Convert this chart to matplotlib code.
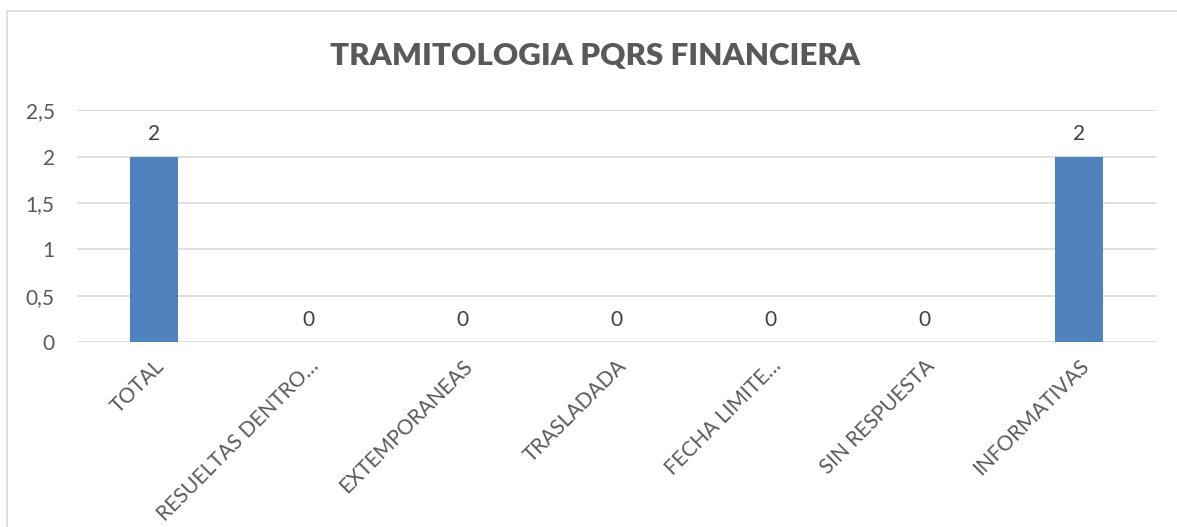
import matplotlib.pyplot as plt
from matplotlib.patches import Rectangle

plt.rcParams['font.family'] = ['Lato', 'DejaVu Sans']

categorias = ["TOTAL", "RESUELTAS DENTRO…", "EXTEMPORANEAS", "TRASLADADA",
              "FECHA LIMITE…", "SIN RESPUESTA", "INFORMATIVAS"]
valores = [2, 0, 0, 0, 0, 0, 2]
yticks = [0, 0.5, 1, 1.5, 2, 2.5]
ytick_labels = ["0", "0,5", "1", "1,5", "2", "2,5"]

gris = "#595959"
azul = "#4f81bd"
fs = 15  # general font size

fig = plt.figure(figsize=(11.77, 5.27), dpi=100)
ax = fig.add_axes([0.0654, 0.351, 0.9166, 0.440])

x = range(len(categorias))
bars = ax.bar(x, valores, width=0.31, color=azul, zorder=3)

for xi, v in zip(x, valores):
    ax.annotate(str(v), (xi, v), xytext=(0, 9), textcoords="offset points",
                ha="center", va="bottom", fontsize=fs, color="#404040")

ax.set_xlim(-0.5, len(categorias) - 0.5)
ax.set_ylim(0, 2.5)
ax.set_yticks(yticks)
ax.set_yticklabels(ytick_labels, fontsize=fs, color=gris)
ax.set_xticks(list(x))
ax.set_xticklabels(categorias, rotation=45, ha="right", va="top",
                   rotation_mode="anchor", fontsize=fs, color=gris)
ax.tick_params(axis="both", length=0)
ax.tick_params(axis="y", pad=16)
ax.tick_params(axis="x", pad=10)
ax.grid(axis="y", color="#d9d9d9", linewidth=1.2, zorder=0)
for s in ax.spines.values():
    s.set_visible(False)

fig.text(0.506, 0.894, "TRAMITOLOGIA PQRS FINANCIERA", ha="center", va="center",
         fontsize=22.5, fontweight="heavy", color=gris)

# chart frame
fig.patches.append(Rectangle((7 / 1177, -0.1), 1.2, 1 - 11 / 527 + 0.1,
                             transform=fig.transFigure, fill=False,
                             edgecolor="#d9d9d9", linewidth=1.2))

fig.savefig("out.png", dpi=100)
